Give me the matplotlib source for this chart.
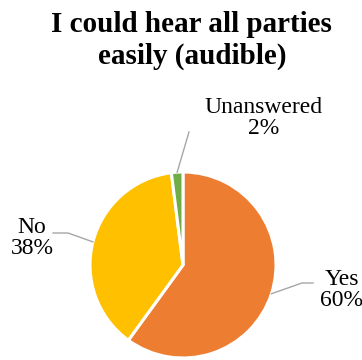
import numpy as np
import matplotlib
matplotlib.use("Agg")
import matplotlib.pyplot as plt

# --- DATA ---
TITLE = "I could hear all parties\neasily (audible)"
labels = ["Yes", "No", "Unanswered"]
shares = [60, 38, 2]
colors = ["#ED7D31", "#FFC000", "#70AD47"]

# --- LAYOUT (pixel units, origin bottom-left) ---
W, H = 362, 360
CENTER = (183, 95)
RADIUS = 93
# label text anchor, elbow of leader line, text alignment
label_layout = {
    "Yes": dict(text=(320, 70), elbow=[(302, 77), (313, 77)], ha="left"),
    "No": dict(text=(32, 122), elbow=[(68, 127), (53, 127)], ha="center"),
    "Unanswered": dict(text=(264, 242), elbow=[(189, 228)], ha="center"),
}

plt.rcParams["font.family"] = ["Liberation Serif", "DejaVu Serif"]

fig = plt.figure(figsize=(W / 100, H / 100), dpi=100)
ax = fig.add_axes([0, 0, 1, 1])

wedges, _ = ax.pie(shares, colors=colors, startangle=90, counterclock=False,
                   center=CENTER, radius=RADIUS, frame=True,
                   wedgeprops=dict(edgecolor="white", linewidth=2.2))

ax.set_xlim(0, W)
ax.set_ylim(0, H)
ax.set_aspect("equal")
ax.axis("off")

# --- LEADER LINES + LABELS ---
for w, lab, val in zip(wedges, labels, shares):
    mid = np.deg2rad((w.theta1 + w.theta2) / 2)
    edge = (CENTER[0] + RADIUS * np.cos(mid), CENTER[1] + RADIUS * np.sin(mid))
    lay = label_layout[lab]
    pts = [edge] + lay["elbow"]
    xs, ys = zip(*pts)
    ax.plot(xs, ys, color="#A6A6A6", linewidth=1.0)
    ax.text(lay["text"][0], lay["text"][1], f"{lab}\n{val}%", ha=lay["ha"],
            va="center", multialignment="center", fontsize=17, linespacing=1.0,
            color="#000000")

fig.text(0.53, 0.97, TITLE, ha="center", va="top", fontsize=21,
         fontweight="bold", linespacing=1.25)

fig.savefig("out.png", dpi=100)
